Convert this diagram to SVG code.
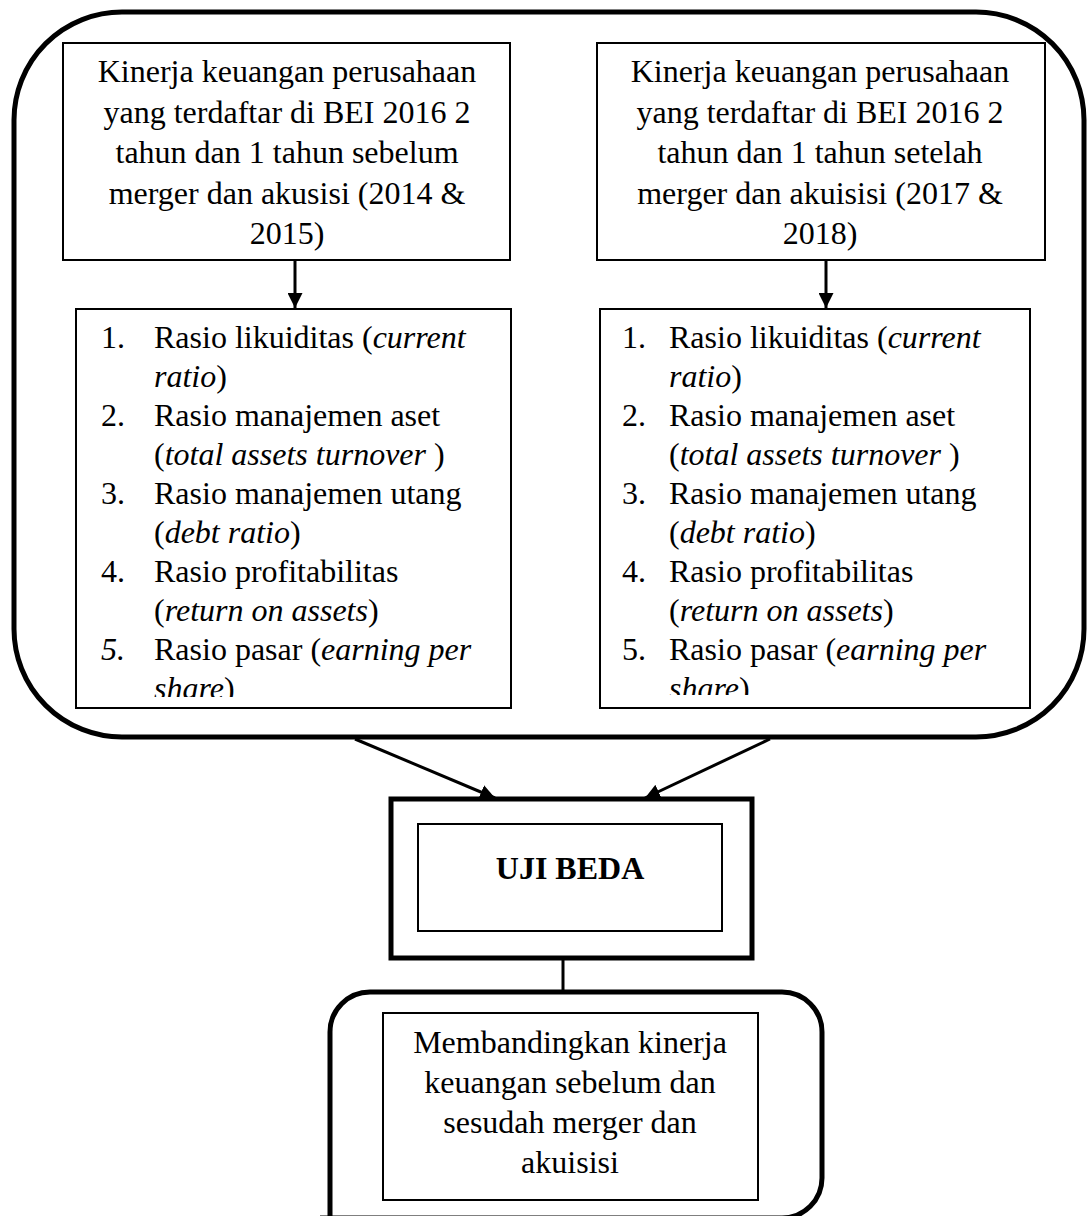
<svg xmlns="http://www.w3.org/2000/svg" width="1089" height="1216" viewBox="0 0 1089 1216">
<style>
.t{font-family:"Liberation Serif","Times New Roman",serif;font-size:32px;fill:#000}
.c{text-anchor:middle}
.b{font-weight:bold}
.i{font-style:italic}
.thin{fill:#fff;stroke:#000;stroke-width:2}
.thick{fill:none;stroke:#000;stroke-width:5}
.con{fill:none;stroke:#000;stroke-width:3}
</style>
<defs>
<marker id="ah" viewBox="0 0 10 10" refX="10" refY="5" markerWidth="5" markerHeight="5" orient="auto" markerUnits="strokeWidth">
<path d="M0,0 L10,5 L0,10 Z" fill="#000"/>
</marker>
<clipPath id="clipL"><rect x="76" y="309" width="435" height="388"/></clipPath>
<clipPath id="clipR"><rect x="600" y="309" width="430" height="386"/></clipPath>
</defs>
<rect width="1089" height="1216" fill="#fff"/>

<g id="outer-group">
<rect x="14" y="12" width="1070" height="725" rx="108" ry="108" class="thick"/>
</g>

<g id="connectors">
<line x1="295" y1="260" x2="295" y2="308" class="con" marker-end="url(#ah)"/>
<line x1="826" y1="260" x2="826" y2="308" class="con" marker-end="url(#ah)"/>
<line x1="355" y1="739" x2="495" y2="798" class="con" marker-end="url(#ah)"/>
<line x1="770" y1="739" x2="645" y2="798" class="con" marker-end="url(#ah)"/>
<line x1="563" y1="958" x2="563" y2="992" class="con"/>
</g>

<g id="top-left">
<rect x="63" y="43" width="447" height="217" class="thin"/>
<g class="t c">
<text x="287" y="82">Kinerja keuangan perusahaan</text>
<text x="287" y="122.5">yang terdaftar di BEI 2016 2</text>
<text x="287" y="163">tahun dan 1 tahun sebelum</text>
<text x="287" y="203.5">merger dan akusisi (2014 &amp;</text>
<text x="287" y="244">2015)</text>
</g>
</g>

<g id="top-right">
<rect x="597" y="43" width="448" height="217" class="thin"/>
<g class="t c">
<text x="820" y="82">Kinerja keuangan perusahaan</text>
<text x="820" y="122.5">yang terdaftar di BEI 2016 2</text>
<text x="820" y="163">tahun dan 1 tahun setelah</text>
<text x="820" y="203.5">merger dan akuisisi (2017 &amp;</text>
<text x="820" y="244">2018)</text>
</g>
</g>

<g id="list-left">
<rect x="76" y="309" width="435" height="399" class="thin"/>
<g clip-path="url(#clipL)">
<g class="t">
<text x="101" y="348">1.</text>
<text x="154" y="348">Rasio likuiditas (<tspan class="i">current</tspan></text>
<text x="154" y="387"><tspan class="i">ratio</tspan>)</text>
<text x="101" y="426">2.</text>
<text x="154" y="426">Rasio manajemen aset</text>
<text x="154" y="465">(<tspan class="i">total assets turnover </tspan>)</text>
<text x="101" y="504">3.</text>
<text x="154" y="504">Rasio manajemen utang</text>
<text x="154" y="543">(<tspan class="i">debt ratio</tspan>)</text>
<text x="101" y="582">4.</text>
<text x="154" y="582">Rasio profitabilitas</text>
<text x="154" y="621">(<tspan class="i">return on assets</tspan>)</text>
<text x="101" y="660" class="i">5.</text>
<text x="154" y="660">Rasio pasar (<tspan class="i">earning per</tspan></text>
<text x="154" y="699"><tspan class="i">share</tspan>)</text>
</g>
</g>
</g>

<g id="list-right">
<rect x="600" y="309" width="430" height="399" class="thin"/>
<g clip-path="url(#clipR)">
<g class="t">
<text x="622" y="348">1.</text>
<text x="669" y="348">Rasio likuiditas (<tspan class="i">current</tspan></text>
<text x="669" y="387"><tspan class="i">ratio</tspan>)</text>
<text x="622" y="426">2.</text>
<text x="669" y="426">Rasio manajemen aset</text>
<text x="669" y="465">(<tspan class="i">total assets turnover </tspan>)</text>
<text x="622" y="504">3.</text>
<text x="669" y="504">Rasio manajemen utang</text>
<text x="669" y="543">(<tspan class="i">debt ratio</tspan>)</text>
<text x="622" y="582">4.</text>
<text x="669" y="582">Rasio profitabilitas</text>
<text x="669" y="621">(<tspan class="i">return on assets</tspan>)</text>
<text x="622" y="660">5.</text>
<text x="669" y="660">Rasio pasar (<tspan class="i">earning per</tspan></text>
<text x="669" y="699"><tspan class="i">share</tspan>)</text>
</g>
</g>
</g>

<g id="uji-beda">
<rect x="391" y="799" width="361" height="159" class="thick" fill="#fff"/>
<rect x="418" y="824" width="304" height="107" class="thin"/>
<text x="570" y="879" class="t c b">UJI BEDA</text>
</g>

<g id="result">
<path d="M330,1240 V1032 A40,40 0 0 1 370,992 H782 A40,40 0 0 1 822,1032 V1178 A40,40 0 0 1 782,1218 H320" class="thick"/>
<rect x="383" y="1013" width="375" height="187" class="thin"/>
<g class="t c">
<text x="570" y="1053">Membandingkan kinerja</text>
<text x="570" y="1093">keuangan sebelum dan</text>
<text x="570" y="1133">sesudah merger dan</text>
<text x="570" y="1173">akuisisi</text>
</g>
</g>
</svg>
